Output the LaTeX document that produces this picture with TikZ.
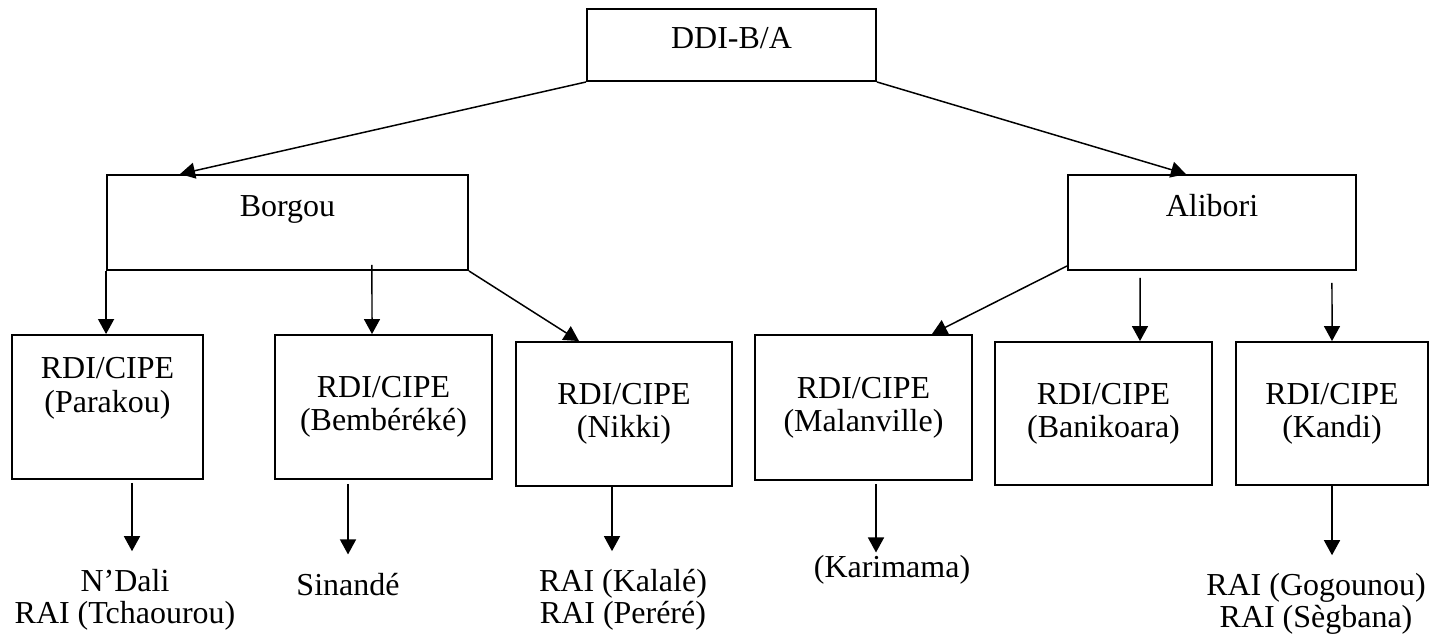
\documentclass[tikz,border=0pt]{standalone}
\usepackage{fontspec}
\setmainfont{Liberation Serif}
\usetikzlibrary{arrows.meta}

\begin{document}
\begin{tikzpicture}[x=0.02cm,y=-0.02cm,
    box/.style={draw,line width=1.1pt,align=center,inner sep=0pt,font=\fontsize{18.2}{19}\selectfont},
    leaf/.style={align=center,anchor=base,inner xsep=0pt,inner ysep=0.36cm,font=\fontsize{18.2}{17.8}\selectfont},
    arr/.style={line width=0.85pt,-{Triangle[length=0.3cm,width=0.32cm]}}]
      \useasboundingbox (0,0) rectangle (1433,637);
      \draw
        (731.5,45) node[box,minimum width=5.78cm,minimum height=1.44cm,text depth=0.3cm] (ddi){DDI-B/A}
        (287.5,222.5) node[box,minimum width=7.22cm,minimum height=1.9cm] (borgou){Borgou\\\mbox{}}
        (1212,222.5) node[box,minimum width=5.76cm,minimum height=1.9cm] (alibori){Alibori\\\mbox{}}
        (107.5,407) node[box,minimum width=3.82cm,minimum height=2.88cm] (parakou){RDI/CIPE\\(Parakou)\\[6pt]\mbox{}}
        (383.5,407) node[box,minimum width=4.34cm,minimum height=2.88cm] (bembereke){RDI/CIPE\\(Bembéréké)}
        (624,414) node[box,minimum width=4.32cm,minimum height=2.88cm] (nikki){RDI/CIPE\\(Nikki)}
        (863.5,407.5) node[box,minimum width=4.34cm,minimum height=2.9cm] (malanville){RDI/CIPE\\(Malanville)}
        (1103.5,413.5) node[box,minimum width=4.34cm,minimum height=2.86cm] (banikoara){RDI/CIPE\\(Banikoara)}
        (1332,413.5) node[box,minimum width=3.84cm,minimum height=2.86cm] (kandi){RDI/CIPE\\(Kandi)};
      \draw
        (125,623) node[leaf] (ndali){N’Dali\\RAI (Tchaourou)}
        (348,595) node[leaf] (sinande){Sinandé}
        (623,623) node[leaf] (kalale){RAI (Kalalé)\\RAI (Peréré)}
        (892,577) node[leaf,inner ysep=0.04cm] (karimama){(Karimama)}
        (1316,627) node[leaf] (gogounou){RAI (Gogounou)\\RAI (Sègbana)};
      \begin{scope}[arr]
        % first level
        \draw (ddi.south west) -- ([xshift=-2.15cm]borgou.north);
        \draw (ddi.south east) -- ([xshift=-0.52cm]alibori.north);
        % Borgou
        \draw (borgou.south west) -- (borgou.south west |- parakou.north);
        \draw ([xshift=1.69cm,yshift=0.12cm]borgou.south) -- ([xshift=-0.23cm]bembereke.north);
        \draw (borgou.south east) -- ([xshift=-0.9cm]nikki.north);
        % Alibori
        \draw ([yshift=0.1cm]alibori.south west) -- ([xshift=1.37cm]malanville.north);
        \draw ([xshift=-1.44cm,yshift=-0.14cm]alibori.south) -- ([xshift=0.73cm]banikoara.north);
        \draw ([xshift=2.4cm,yshift=-0.24cm]alibori.south) -- (kandi.north);
        % bottom row
        \draw ([xshift=0.49cm,yshift=-0.06cm]parakou.south) -- ([xshift=0.49cm]parakou.south |- ndali.north);
        \draw ([xshift=-0.71cm,yshift=-0.08cm]bembereke.south) -- ([xshift=-0.71cm]bembereke.south |- sinande.north);
        \draw ([xshift=-0.24cm]nikki.south) -- ([xshift=-0.24cm]nikki.south |- kalale.north);
        \draw ([xshift=0.25cm,yshift=-0.06cm]malanville.south) -- ([xshift=0.25cm]malanville.south |- karimama.north);
        \draw (kandi.south) -- (kandi.south |- gogounou.north);
      \end{scope}
    \end{tikzpicture}
\end{document}
